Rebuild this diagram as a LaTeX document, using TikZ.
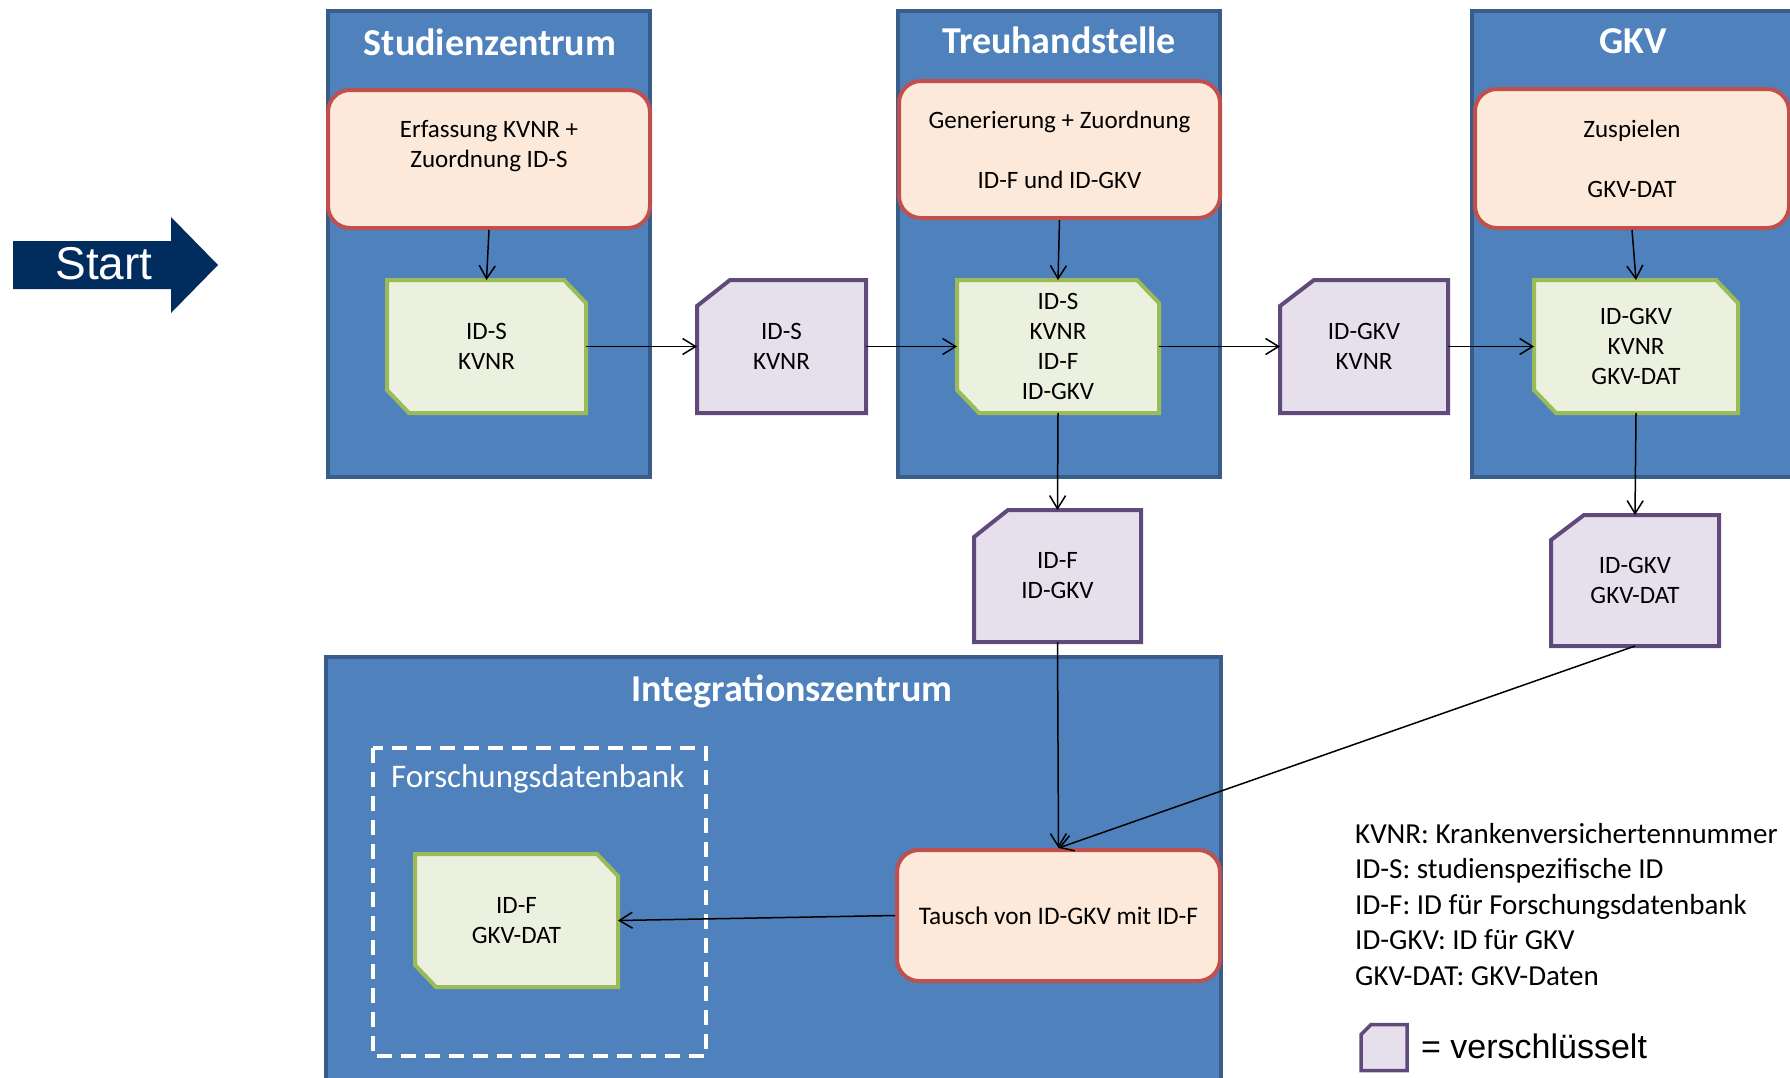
\documentclass[tikz,border=0pt]{standalone}
\usepackage{fontspec}
\setmainfont{Carlito}
\newfontfamily\arialfont{Liberation Sans}
\usetikzlibrary{arrows.meta}
\pgfdeclarelayer{back}
\pgfdeclarelayer{mid}
\pgfsetlayers{back,mid,main}
\definecolor{bluefill}{RGB}{79,129,189}
\definecolor{blueline}{RGB}{56,93,138}
\definecolor{redline}{RGB}{192,80,77}
\definecolor{redfill}{RGB}{253,233,218}
\definecolor{greenline}{RGB}{155,187,89}
\definecolor{greenfill}{RGB}{235,241,222}
\definecolor{purpleline}{RGB}{96,74,123}
\definecolor{purplefill}{RGB}{229,224,236}
\definecolor{navyblue}{RGB}{0,44,94}
\newcommand\greenshape[3]{%
  \begin{pgfonlayer}{mid}
  \draw[greendoc] (#1.north west) -- ([xshift=-#2]#1.north east) -- ([yshift=-#3]#1.north east)
    -- (#1.south east) -- ([xshift=#2]#1.south west) -- ([yshift=#3]#1.south west) -- cycle;
  \end{pgfonlayer}}
\newcommand\purpleshape[3]{%
  \begin{pgfonlayer}{mid}
  \draw[purpledoc] ([yshift=-#3]#1.north west) -- ([xshift=#2]#1.north west) -- (#1.north east)
    -- (#1.south east) -- (#1.south west) -- cycle;
  \end{pgfonlayer}}
\begin{document}
\begin{tikzpicture}[x=1pt,y=-1pt,
  lane/.style={fill=bluefill,draw=blueline,line width=3.5pt},
  lanetitle/.style={anchor=base,text=white,inner sep=0pt,font=\fontsize{38}{42}\selectfont\bfseries},
  procbox/.style={draw=redline,fill=redfill,line width=4pt,rounded corners=22pt,inner sep=0pt,align=center,font=\fontsize{25}{30}\selectfont},
  docbox/.style={inner sep=0pt,outer sep=0pt,align=center,font=\fontsize{25}{30}\selectfont},
  greendoc/.style={draw=greenline,fill=greenfill,line width=4pt},
  purpledoc/.style={draw=purpleline,fill=purplefill,line width=4pt},
  flow/.style={line width=1.5pt,-{Straight Barb[length=13pt,width=16pt]}},
  legendtext/.style={anchor=base west,inner sep=0pt,font=\fontsize{29}{35}\selectfont}
]
\useasboundingbox (0,0) rectangle (1790,1077);
\begin{pgfonlayer}{back}
  \clip (0,0) rectangle (1790,1077);
  \fill[white] (0,0) rectangle (1790,1077);
  \draw[lane] (328,11) rectangle (650,477);
  \draw[lane] (898,11) rectangle (1220,477);
  \draw[lane] (1472,11) rectangle (1830,477);
  \draw[lane] (326,657) rectangle (1221,1110);
  \draw[white,line width=4pt,dash pattern=on 15pt off 9pt] (373,748) rectangle (706,1056);
\end{pgfonlayer}

% lane titles
\node[lanetitle] (t1) at (490,55) {Studienzentrum};
\node[lanetitle] (t2) at (1059,53) {Treuhandstelle};
\node[lanetitle] (t3) at (1633,53) {GKV};
\node[lanetitle] (t4) at (792,701) {Integrationszentrum};
\node[anchor=base west,text=white,inner sep=0pt,font=\fontsize{33}{36}\selectfont] (fdb) at (391,787) {Forschungsdatenbank};

% start arrow
\fill[navyblue] (13,241) -- (171,241) -- (171,217) -- (218,265) -- (171,313) -- (171,289) -- (13,289) -- cycle;
\node[text=white,inner sep=0pt,font=\arialfont\fontsize{46}{50}\selectfont] (start) at (104,264) {Start};

% process boxes
\node[procbox,minimum width=322pt,minimum height=138pt] (r1) at (489,159) {Erfassung KVNR +\\Zuordnung ID-S\\\mbox{}};
\node[procbox,minimum width=321pt,minimum height=137pt] (r2) at (1059.5,149.5) {Generierung + Zuordnung\\\mbox{}\\ID-F und ID-GKV};
\node[procbox,minimum width=314pt,minimum height=139pt] (r3) at (1632,158.5) {Zuspielen\\\mbox{}\\GKV-DAT};
\node[procbox,minimum width=323pt,minimum height=131pt,font=\fontsize{25.3}{30}\selectfont] (r4) at (1058.5,915.5) {Tausch von ID-GKV mit ID-F};

% data documents
\node[docbox,minimum width=199pt,minimum height=133pt] (g1) at (486.5,346.5) {ID-S\\KVNR};
\greenshape{g1}{22pt}{23pt}
\node[docbox,minimum width=202pt,minimum height=133pt] (g2) at (1058,346.5) {ID-S\\KVNR\\ID-F\\ID-GKV};
\greenshape{g2}{22pt}{23pt}
\node[docbox,minimum width=204pt,minimum height=133pt] (g3) at (1636,346.5) {ID-GKV\\KVNR\\GKV-DAT};
\greenshape{g3}{22pt}{23pt}
\node[docbox,minimum width=203pt,minimum height=133pt] (g4) at (516.5,920.5) {ID-F\\GKV-DAT};
\greenshape{g4}{21pt}{22pt}

\node[docbox,minimum width=169pt,minimum height=133pt] (p1) at (781.5,346.5) {ID-S\\KVNR};
\purpleshape{p1}{33pt}{26pt}
\node[docbox,minimum width=168pt,minimum height=133pt] (p2) at (1364,346.5) {ID-GKV\\KVNR};
\purpleshape{p2}{34pt}{26pt}
\node[docbox,minimum width=167pt,minimum height=132pt] (p3) at (1057.5,576) {ID-F\\ID-GKV};
\purpleshape{p3}{34pt}{27pt}
\node[docbox,minimum width=168pt,minimum height=131pt] (p4) at (1635,580.5) {ID-GKV\\GKV-DAT};
\purpleshape{p4}{33pt}{25pt}

% connectors
\draw[flow] (r1.south) -- (g1.north);
\draw[flow] (g1.east) -- (p1.west);
\draw[flow] (p1.east) -- (g2.west);
\draw[flow] (r2.south) -- (g2.north);
\draw[flow] (g2.east) -- (p2.west);
\draw[flow] (p2.east) -- (g3.west);
\draw[flow] (r3.south) -- (g3.north);
\draw[flow] (g2.south) -- (p3.north);
\draw[flow] (g3.south) -- (p4.north);
\draw[flow] (p3.south) -- (r4.north);
\draw[flow] (p4.south) -- (r4.north);
\draw[flow] (r4.west) -- (g4.east);

% legend
\node[legendtext] (l1) at (1355,843) {KVNR: Krankenversichertennummer};
\node[legendtext] (l2) at (1355,878.5) {ID-S: studienspezifische ID};
\node[legendtext] (l3) at (1355,914) {ID-F: ID für Forschungsdatenbank};
\node[legendtext] (l4) at (1355,949.5) {ID-GKV: ID für GKV};
\node[legendtext] (l5) at (1355,985) {GKV-DAT: GKV-Daten};
\node[docbox,minimum width=46pt,minimum height=46pt] (p5) at (1384,1047.5) {};
\begin{pgfonlayer}{mid}
\draw[purpleline,fill=purplefill,line width=3.5pt] ([yshift=-10pt]p5.north west) -- ([xshift=10pt]p5.north west) -- (p5.north east) -- (p5.south east) -- (p5.south west) -- cycle;
\end{pgfonlayer}
\node[anchor=base west,inner sep=0pt,font=\arialfont\fontsize{34}{38}\selectfont] (enc) at (1421,1058) {= verschlüsselt};
\end{tikzpicture}
\end{document}
